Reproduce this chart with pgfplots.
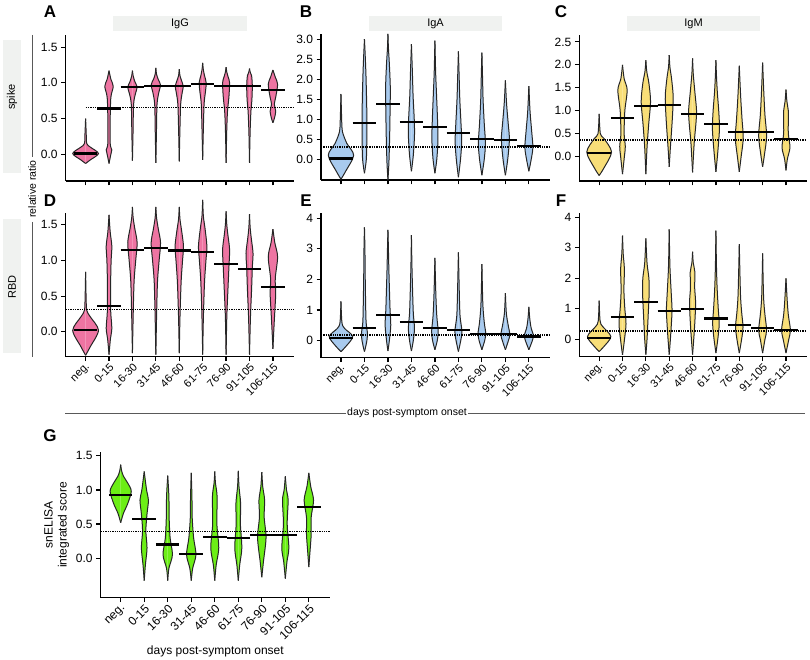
\documentclass[border=0pt]{standalone}
\usepackage{fontspec}
\setmainfont{Liberation Sans}
\usepackage{pgfplots}
\pgfplotsset{compat=1.18}

\definecolor{pk}{RGB}{238,116,162}
\definecolor{bl}{RGB}{168,202,238}
\definecolor{yl}{RGB}{248,222,120}
\definecolor{gn}{RGB}{108,238,22}
\definecolor{boxgray}{RGB}{240,242,240}

\pgfplotsset{
  vbase/.style={
    scale only axis, clip=false,
    axis x line*=bottom, axis y line*=left,
    axis line style={line width=1.5pt},
    every tick/.style={black, line width=1.2pt},
    tick align=outside, major tick length=4.5pt,
    xmin=-0.85, xmax=8.9, xtick={0,...,8},
    ticklabel style={font=\fontsize{12}{13}\selectfont},
    /pgf/number format/assume math mode=true,
  },
  dec/.style={yticklabel style={/pgf/number format/.cd, fixed, fixed zerofill, precision=1}},
  nolab/.style={xticklabels={}},
  daylab/.style={
    xticklabels={neg.,0-15,16-30,31-45,46-60,61-75,76-90,91-105,106-115},
    xticklabel style={rotate=45, anchor=north east, font=\fontsize{11}{12}\selectfont, inner sep=1pt}},
  vline/.style={black!85, line width=1pt, smooth, tension=0.5},
  medline/.style={black, line width=2.2pt},
  cut/.style={black, densely dotted, line width=1.3pt},
}

% #1 position, #2 colour, #3 median, #4 profile (y = height, w = half width)
\newcommand{\vio}[4]{%
  \addplot[fill=#2, draw=none, smooth, tension=0.5] table[row sep=\\, x expr=#1+\thisrow{w}, y=y] {#4} -- cycle;
  \addplot[fill=#2, draw=none, smooth, tension=0.5] table[row sep=\\, x expr=#1-\thisrow{w}, y=y] {#4} -- cycle;
  \addplot[vline] table[row sep=\\, x expr=#1+\thisrow{w}, y=y] {#4};
  \addplot[vline] table[row sep=\\, x expr=#1-\thisrow{w}, y=y] {#4};
  \addplot[medline] table[row sep=\\, x expr=#1+\thisrow{d}, y=y] {d y\\ -0.5 #3\\ 0.5 #3\\};
}

\begin{document}
\begin{tikzpicture}[x=1pt, y=1pt]
\useasboundingbox (0,0) rectangle (810,659);

% ---------- A: IgG spike
\begin{axis}[vbase, dec, nolab, at={(65.7pt,478pt)}, anchor=south west,
  width=228.3pt, height=146pt, ymin=-0.375, ymax=1.67, ytick={0,0.5,1,1.5}]
\vio{0}{pk}{0.01}{y w\\ -0.13 0\\ -0.08 0.2\\ 0.01 0.55\\ 0.1 0.2\\ 0.15 0.05\\ 0.3 0.025\\ 0.5 0\\}
\vio{1}{pk}{0.64}{y w\\ -0.13 0\\ 0.0 0.08\\ 0.06 0.12\\ 0.15 0.05\\ 0.5 0.05\\ 0.8 0.08\\ 0.95 0.18\\ 1.05 0.08\\ 1.17 0\\}
\vio{2}{pk}{0.94}{y w\\ -0.09 0\\ 0.3 0.025\\ 0.7 0.05\\ 0.85 0.13\\ 0.94 0.2\\ 1.02 0.1\\ 1.1 0.03\\ 1.17 0\\}
\vio{3}{pk}{0.96}{y w\\ -0.12 0\\ 0.3 0.025\\ 0.7 0.05\\ 0.87 0.13\\ 0.97 0.2\\ 1.05 0.1\\ 1.12 0.03\\ 1.21 0\\}
\vio{4}{pk}{0.95}{y w\\ -0.1 0\\ 0.3 0.025\\ 0.7 0.06\\ 0.87 0.13\\ 0.95 0.17\\ 1.03 0.1\\ 1.1 0.03\\ 1.19 0\\}
\vio{5}{pk}{0.98}{y w\\ -0.08 0\\ 0.3 0.025\\ 0.7 0.06\\ 0.88 0.12\\ 1.0 0.15\\ 1.1 0.08\\ 1.18 0.03\\ 1.28 0\\}
\vio{6}{pk}{0.96}{y w\\ -0.12 0\\ 0.3 0.025\\ 0.6 0.06\\ 0.8 0.12\\ 1.0 0.15\\ 1.08 0.09\\ 1.15 0.03\\ 1.22 0\\}
\vio{7}{pk}{0.95}{y w\\ -0.12 0\\ 0.3 0.025\\ 0.6 0.06\\ 0.75 0.1\\ 0.95 0.12\\ 1.1 0.09\\ 1.15 0.03\\ 1.2 0\\}
\vio{8}{pk}{0.90}{y w\\ 0.44 0\\ 0.5 0.06\\ 0.6 0.12\\ 0.7 0.06\\ 0.8 0.12\\ 0.98 0.2\\ 1.08 0.1\\ 1.18 0\\}
\addplot[cut] coordinates {(0,0.65) (8.9,0.65)};
\end{axis}

% ---------- B: IgA spike
\begin{axis}[vbase, dec, nolab, at={(321pt,479pt)}, anchor=south west,
  width=229pt, height=145.7pt, ymin=-0.52, ymax=3.14, ytick={0,0.5,...,3}]
\vio{0}{bl}{0.02}{y w\\ -0.5 0\\ -0.3 0.2\\ 0.1 0.54\\ 0.4 0.25\\ 0.7 0.06\\ 1.0 0.03\\ 1.64 0\\}
\vio{1}{bl}{0.91}{y w\\ -0.35 0\\ 0.0 0.08\\ 0.5 0.1\\ 1.2 0.1\\ 2.0 0.07\\ 2.5 0.04\\ 3.02 0\\}
\vio{2}{bl}{1.38}{y w\\ -0.52 0\\ -0.1 0.04\\ 0.5 0.07\\ 1.2 0.09\\ 1.8 0.1\\ 2.4 0.06\\ 2.8 0.02\\ 3.15 0\\}
\vio{3}{bl}{0.93}{y w\\ -0.3 0\\ 0.1 0.08\\ 0.6 0.13\\ 1.0 0.12\\ 1.6 0.07\\ 2.2 0.04\\ 2.89 0\\}
\vio{4}{bl}{0.82}{y w\\ -0.35 0\\ 0.0 0.08\\ 0.5 0.13\\ 1.0 0.11\\ 1.6 0.07\\ 2.2 0.03\\ 2.98 0\\}
\vio{5}{bl}{0.67}{y w\\ -0.45 0\\ 0.0 0.09\\ 0.45 0.14\\ 0.9 0.11\\ 1.5 0.06\\ 2.1 0.03\\ 2.71 0\\}
\vio{6}{bl}{0.50}{y w\\ -0.4 0\\ 0.0 0.1\\ 0.4 0.15\\ 0.9 0.1\\ 1.5 0.05\\ 2.0 0.03\\ 2.68 0\\}
\vio{7}{bl}{0.49}{y w\\ -0.4 0\\ 0.0 0.1\\ 0.5 0.17\\ 0.9 0.12\\ 1.4 0.05\\ 1.98 0\\}
\vio{8}{bl}{0.34}{y w\\ -0.3 0\\ 0.0 0.1\\ 0.3 0.17\\ 0.7 0.12\\ 1.2 0.05\\ 1.84 0\\}
\addplot[cut] coordinates {(-0.85,0.31) (8.9,0.31)};
\end{axis}

% ---------- C: IgM spike
\begin{axis}[vbase, dec, nolab, at={(579.3pt,478pt)}, anchor=south west,
  width=227.7pt, height=146pt, ymin=-0.53, ymax=2.65, ytick={0,0.5,...,2.5}]
\vio{0}{yl}{0.08}{y w\\ -0.41 0\\ -0.25 0.2\\ 0.1 0.53\\ 0.4 0.2\\ 0.5 0.05\\ 0.93 0\\}
\vio{1}{yl}{0.85}{y w\\ -0.38 0\\ 0.0 0.08\\ 0.22 0.12\\ 0.5 0.07\\ 1.0 0.1\\ 1.45 0.2\\ 1.7 0.07\\ 2.0 0\\}
\vio{2}{yl}{1.11}{y w\\ -0.38 0\\ 0.2 0.05\\ 0.7 0.12\\ 1.2 0.2\\ 1.6 0.13\\ 1.85 0.04\\ 2.1 0\\}
\vio{3}{yl}{1.12}{y w\\ -0.22 0\\ 0.2 0.05\\ 0.8 0.13\\ 1.3 0.17\\ 1.7 0.1\\ 1.95 0.03\\ 2.21 0\\}
\vio{4}{yl}{0.93}{y w\\ -0.34 0\\ 0.3 0.07\\ 0.7 0.14\\ 1.0 0.17\\ 1.4 0.1\\ 1.8 0.03\\ 2.14 0\\}
\vio{5}{yl}{0.72}{y w\\ -0.33 0\\ 0.1 0.08\\ 0.6 0.15\\ 1.0 0.12\\ 1.4 0.06\\ 1.8 0.02\\ 2.1 0\\}
\vio{6}{yl}{0.54}{y w\\ -0.33 0\\ 0.0 0.08\\ 0.4 0.17\\ 0.8 0.12\\ 1.3 0.06\\ 1.98 0\\}
\vio{7}{yl}{0.54}{y w\\ -0.22 0\\ 0.05 0.08\\ 0.45 0.17\\ 0.9 0.1\\ 1.4 0.05\\ 2.05 0\\}
\vio{8}{yl}{0.38}{y w\\ -0.3 0\\ -0.05 0.06\\ 0.2 0.17\\ 0.5 0.1\\ 0.8 0.1\\ 1.0 0.1\\ 1.2 0.04\\ 1.46 0\\}
\addplot[cut] coordinates {(-0.85,0.36) (8.9,0.36)};
\end{axis}

% ---------- D: IgG RBD
\begin{axis}[vbase, dec, daylab, at={(65.7pt,302.3pt)}, anchor=south west,
  width=228.3pt, height=144pt, ymin=-0.35, ymax=1.67, ytick={0,0.5,1,1.5}]
\vio{0}{pk}{0.02}{y w\\ -0.33 0\\ -0.21 0.2\\ 0.02 0.55\\ 0.21 0.2\\ 0.3 0.05\\ 0.5 0.02\\ 0.84 0\\}
\vio{1}{pk}{0.36}{y w\\ -0.32 0\\ -0.1 0.06\\ 0.05 0.12\\ 0.3 0.07\\ 0.7 0.07\\ 1.0 0.09\\ 1.2 0.12\\ 1.4 0.05\\ 1.64 0\\}
\vio{2}{pk}{1.15}{y w\\ -0.3 0\\ 0.2 0.03\\ 0.7 0.07\\ 1.0 0.14\\ 1.25 0.2\\ 1.45 0.1\\ 1.6 0.03\\ 1.75 0\\}
\vio{3}{pk}{1.17}{y w\\ -0.32 0\\ 0.2 0.03\\ 0.7 0.07\\ 1.0 0.14\\ 1.25 0.2\\ 1.45 0.1\\ 1.6 0.03\\ 1.75 0\\}
\vio{4}{pk}{1.14}{y w\\ -0.3 0\\ 0.2 0.03\\ 0.7 0.08\\ 1.0 0.14\\ 1.2 0.18\\ 1.42 0.1\\ 1.58 0.03\\ 1.75 0\\}
\vio{5}{pk}{1.12}{y w\\ -0.32 0\\ 0.2 0.03\\ 0.7 0.08\\ 1.0 0.14\\ 1.2 0.18\\ 1.45 0.1\\ 1.62 0.03\\ 1.85 0\\}
\vio{6}{pk}{0.95}{y w\\ -0.32 0\\ 0.2 0.03\\ 0.6 0.08\\ 0.9 0.12\\ 1.15 0.15\\ 1.35 0.08\\ 1.5 0.03\\ 1.69 0\\}
\vio{7}{pk}{0.88}{y w\\ -0.32 0\\ 0.2 0.04\\ 0.6 0.09\\ 0.9 0.12\\ 1.1 0.15\\ 1.3 0.08\\ 1.45 0.03\\ 1.65 0\\}
\vio{8}{pk}{0.63}{y w\\ -0.24 0\\ 0.1 0.05\\ 0.4 0.1\\ 0.55 0.12\\ 0.75 0.1\\ 1.05 0.2\\ 1.25 0.08\\ 1.44 0\\}
\addplot[cut] coordinates {(-0.85,0.31) (8.9,0.31)};
\end{axis}

% ---------- E: IgA RBD
\begin{axis}[vbase, daylab, at={(321pt,301.3pt)}, anchor=south west,
  width=229pt, height=145pt, ymin=-0.56, ymax=4.18, ytick={0,...,4}]
\vio{0}{bl}{0.08}{y w\\ -0.36 0\\ -0.2 0.2\\ 0.13 0.5\\ 0.4 0.15\\ 0.6 0.04\\ 1.28 0\\}
\vio{1}{bl}{0.40}{y w\\ -0.36 0\\ -0.1 0.08\\ 0.2 0.13\\ 0.6 0.07\\ 1.2 0.05\\ 2.2 0.03\\ 3.0 0.02\\ 3.7 0\\}
\vio{2}{bl}{0.83}{y w\\ -0.34 0\\ 0.0 0.06\\ 0.5 0.12\\ 1.0 0.09\\ 1.5 0.07\\ 2.3 0.04\\ 3.0 0.02\\ 3.62 0\\}
\vio{3}{bl}{0.60}{y w\\ -0.34 0\\ 0.0 0.08\\ 0.4 0.13\\ 0.9 0.08\\ 1.6 0.05\\ 2.5 0.02\\ 3.45 0\\}
\vio{4}{bl}{0.42}{y w\\ -0.3 0\\ 0.0 0.1\\ 0.3 0.14\\ 0.8 0.08\\ 1.5 0.04\\ 2.7 0\\}
\vio{5}{bl}{0.35}{y w\\ -0.36 0\\ 0.0 0.1\\ 0.3 0.15\\ 0.8 0.07\\ 1.5 0.04\\ 2.88 0\\}
\vio{6}{bl}{0.22}{y w\\ -0.3 0\\ 0.0 0.12\\ 0.2 0.17\\ 0.6 0.1\\ 1.2 0.04\\ 2.5 0\\}
\vio{7}{bl}{0.21}{y w\\ -0.3 0\\ 0.0 0.13\\ 0.2 0.19\\ 0.5 0.12\\ 0.9 0.04\\ 1.55 0\\}
\vio{8}{bl}{0.13}{y w\\ -0.3 0\\ 0.0 0.15\\ 0.15 0.2\\ 0.4 0.1\\ 0.7 0.04\\ 1.1 0\\}
\addplot[cut] coordinates {(-0.85,0.18) (8.9,0.18)};
\end{axis}

% ---------- F: IgM RBD
\begin{axis}[vbase, daylab, at={(579.3pt,302.3pt)}, anchor=south west,
  width=227.7pt, height=144pt, ymin=-0.57, ymax=4.15, ytick={0,...,4}]
\vio{0}{yl}{0.03}{y w\\ -0.4 0\\ -0.24 0.2\\ 0.09 0.5\\ 0.42 0.15\\ 0.6 0.04\\ 1.27 0\\}
\vio{1}{yl}{0.74}{y w\\ -0.51 0\\ -0.1 0.07\\ 0.5 0.15\\ 1.0 0.1\\ 1.6 0.06\\ 2.3 0.08\\ 2.8 0.03\\ 3.4 0\\}
\vio{2}{yl}{1.23}{y w\\ -0.5 0\\ 0.0 0.05\\ 0.8 0.1\\ 1.5 0.14\\ 2.0 0.13\\ 2.5 0.05\\ 3.31 0\\}
\vio{3}{yl}{0.93}{y w\\ -0.5 0\\ 0.0 0.05\\ 0.6 0.1\\ 1.0 0.12\\ 1.6 0.08\\ 2.4 0.03\\ 3.6 0\\}
\vio{4}{yl}{1.00}{y w\\ -0.5 0\\ 0.0 0.05\\ 0.6 0.1\\ 1.2 0.13\\ 1.7 0.09\\ 2.2 0.1\\ 2.5 0.03\\ 2.87 0\\}
\vio{5}{yl}{0.68}{y w\\ -0.45 0\\ 0.0 0.08\\ 0.5 0.14\\ 1.0 0.1\\ 1.7 0.05\\ 2.5 0.02\\ 3.56 0\\}
\vio{6}{yl}{0.47}{y w\\ -0.45 0\\ 0.0 0.1\\ 0.4 0.16\\ 0.9 0.1\\ 1.5 0.05\\ 3.12 0\\}
\vio{7}{yl}{0.36}{y w\\ -0.45 0\\ 0.0 0.1\\ 0.3 0.17\\ 0.8 0.1\\ 1.4 0.04\\ 2.82 0\\}
\vio{8}{yl}{0.31}{y w\\ -0.45 0\\ 0.0 0.12\\ 0.3 0.19\\ 0.8 0.1\\ 1.3 0.05\\ 2.0 0\\}
\addplot[cut] coordinates {(-0.85,0.27) (8.9,0.27)};
\end{axis}

% ---------- G: snELISA
\begin{axis}[vbase, dec, daylab, at={(100.7pt,61.3pt)}, anchor=south west,
  width=229.3pt, height=146pt, ymin=-0.58, ymax=1.56, ytick={0,0.5,1,1.5},
  xticklabel style={font=\fontsize{12}{13}\selectfont},
  ylabel style={align=center, font=\fontsize{12}{14}\selectfont},
  ylabel={snELISA\\integrated score},
  xlabel style={font=\fontsize{12}{13}\selectfont},
  xlabel={days post-symptom onset}]
\vio{0}{gn}{0.93}{y w\\ 0.52 0\\ 0.66 0.12\\ 0.8 0.3\\ 0.98 0.45\\ 1.1 0.3\\ 1.2 0.12\\ 1.28 0.04\\ 1.37 0\\}
\vio{1}{gn}{0.57}{y w\\ -0.33 0\\ -0.1 0.05\\ 0.15 0.12\\ 0.4 0.07\\ 0.65 0.12\\ 0.85 0.18\\ 1.0 0.1\\ 1.27 0\\}
\vio{2}{gn}{0.20}{y w\\ -0.33 0\\ -0.15 0.05\\ 0.05 0.2\\ 0.3 0.1\\ 0.6 0.06\\ 0.9 0.05\\ 1.21 0\\}
\vio{3}{gn}{0.06}{y w\\ -0.33 0\\ -0.15 0.06\\ 0.05 0.2\\ 0.3 0.1\\ 0.6 0.04\\ 0.9 0.03\\ 1.25 0\\}
\vio{4}{gn}{0.31}{y w\\ -0.33 0\\ -0.1 0.06\\ 0.15 0.17\\ 0.5 0.09\\ 0.9 0.1\\ 1.1 0.03\\ 1.27 0\\}
\vio{5}{gn}{0.30}{y w\\ -0.33 0\\ -0.1 0.06\\ 0.15 0.15\\ 0.5 0.09\\ 0.8 0.1\\ 1.05 0.03\\ 1.28 0\\}
\vio{6}{gn}{0.34}{y w\\ -0.28 0\\ -0.05 0.07\\ 0.3 0.18\\ 0.6 0.1\\ 0.85 0.12\\ 1.05 0.04\\ 1.26 0\\}
\vio{7}{gn}{0.34}{y w\\ -0.3 0\\ -0.05 0.07\\ 0.15 0.15\\ 0.5 0.08\\ 0.85 0.12\\ 1.0 0.05\\ 1.2 0\\}
\vio{8}{gn}{0.75}{y w\\ -0.13 0\\ 0.1 0.05\\ 0.35 0.1\\ 0.6 0.1\\ 0.85 0.2\\ 1.05 0.08\\ 1.25 0\\}
\addplot[cut] coordinates {(-0.85,0.39) (8.9,0.39)};
\end{axis}

% ---------- annotations
\fill[boxgray] (113,628) rectangle (247,643.3);
\fill[boxgray] (369,628) rectangle (502,643.3);
\fill[boxgray] (627,628) rectangle (760,643.3);
\node[font=\fontsize{11}{12}\selectfont] at (180,635.5) {IgG};
\node[font=\fontsize{11}{12}\selectfont] at (435.5,635.5) {IgA};
\node[font=\fontsize{11}{12}\selectfont] at (693.5,635.5) {IgM};

\fill[boxgray] (3,486) rectangle (20.7,619);
\fill[boxgray] (3,306) rectangle (20.7,440);
\node[rotate=90, font=\fontsize{11}{12}\selectfont] at (12,562) {spike};
\node[rotate=90, font=\fontsize{11}{12}\selectfont] at (12,372) {RBD};
\draw[gray!70!black, line width=0.8pt] (32,624) -- (32,502);
\draw[gray!70!black, line width=0.8pt] (32,437) -- (32,302);
\node[rotate=90, font=\fontsize{10.5}{12}\selectfont] at (32,470) {relative ratio};

\draw[gray!70!black, line width=0.8pt] (65,246) -- (346,246);
\draw[gray!70!black, line width=0.8pt] (468,246) -- (805,246);
\node[font=\fontsize{10.5}{12}\selectfont] at (407,246) {days post-symptom onset};

\node[font=\bfseries\fontsize{17}{18}\selectfont] at (50,647.5) {A};
\node[font=\bfseries\fontsize{17}{18}\selectfont] at (306,647.5) {B};
\node[font=\bfseries\fontsize{17}{18}\selectfont] at (561,647.5) {C};
\node[font=\bfseries\fontsize{17}{18}\selectfont] at (50,458) {D};
\node[font=\bfseries\fontsize{17}{18}\selectfont] at (306,458) {E};
\node[font=\bfseries\fontsize{17}{18}\selectfont] at (561,458) {F};
\node[font=\bfseries\fontsize{17}{18}\selectfont] at (50,223) {G};
\end{tikzpicture}
\end{document}
